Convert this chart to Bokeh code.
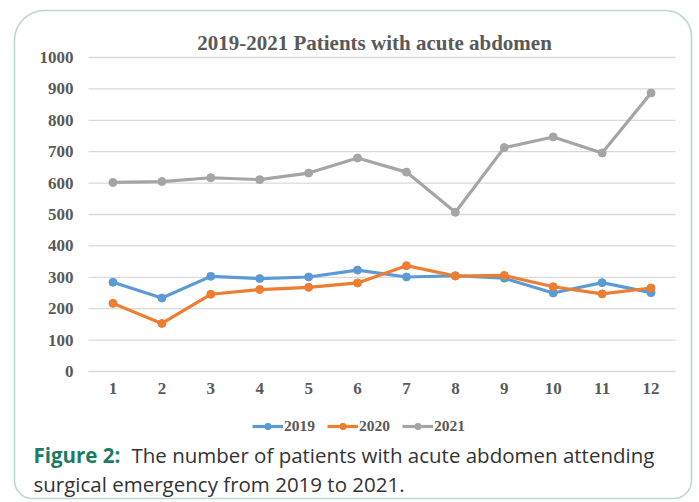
from bokeh.plotting import figure
from bokeh.models import (Label, BoxAnnotation, Legend, LegendItem, FixedTicker,
                          Range1d)
from bokeh.embed import file_html
from bokeh.resources import INLINE

months = [1, 2, 3, 4, 5, 6, 7, 8, 9, 10, 11, 12]
y2019 = [284, 234, 303, 296, 301, 323, 301, 305, 297, 250, 283, 251]
y2020 = [217, 153, 246, 261, 268, 282, 337, 304, 306, 270, 247, 266]
y2021 = [602, 605, 617, 611, 632, 680, 635, 507, 713, 747, 696, 887]
series_names = ["2019", "2020", "2021"]
y_ticks = [0, 100, 200, 300, 400, 500, 600, 700, 800, 900, 1000]
title_text = "2019-2021 Patients with acute abdomen"
caption_bold = "Figure 2:"
caption_line1 = "The number of patients with acute abdomen attending"
caption_line2 = "surgical emergency from 2019 to 2021."

W, H = 699, 502
# plot area in page pixels (x: 0.5..12.5, y: 0..1000)
PL, PR, PT, PB = 88, 675, 57, 371
XMIN, XMAX, YMIN, YMAX = 0.5, 12.5, 0, 1000
kx = (XMAX - XMIN) / (PR - PL)
ky = (YMAX - YMIN) / (PB - PT)
x_range = Range1d(XMIN - PL * kx, XMAX + (W - PR) * kx)
y_range = Range1d(YMIN - (H - PB) * ky, YMAX + PT * ky)

p = figure(width=W, height=H, output_backend="svg", toolbar_location=None,
           x_range=x_range, y_range=y_range,
           min_border=0, min_border_left=0, min_border_right=0,
           min_border_top=0, min_border_bottom=0)
p.outline_line_color = None
p.background_fill_color = "white"
p.border_fill_color = "white"
p.xgrid.visible = False
p.ygrid.visible = False

SERIF = "Liberation Serif"
TICK_COLOR = "#595959"

p.xaxis.ticker = FixedTicker(ticks=months)
p.yaxis.ticker = FixedTicker(ticks=y_ticks)
p.xaxis.fixed_location = YMIN
p.yaxis.fixed_location = XMIN
for ax in (p.xaxis[0], p.yaxis[0]):
    ax.axis_line_color = None
    ax.major_tick_line_color = None
    ax.minor_tick_line_color = None
    ax.major_tick_out = 0
    ax.major_tick_in = 0
    ax.major_label_text_font = SERIF
    ax.major_label_text_font_style = "bold"
    ax.major_label_text_font_size = "17px"
    ax.major_label_text_color = TICK_COLOR
p.yaxis.major_label_standoff = 15
p.xaxis.major_label_standoff = 11

# horizontal gridlines drawn across the plot area from the tick values
p.segment(x0=[XMIN] * len(y_ticks), x1=[XMAX] * len(y_ticks), y0=y_ticks,
          y1=y_ticks, line_color="#d9d9d9", line_width=1.3, level="underlay")

colors = ["#5b9bd5", "#ed7d31", "#a5a5a5"]
items = []
for name, vals, c in zip(series_names, [y2019, y2020, y2021], colors):
    lr = p.line(months, vals, line_color=c, line_width=3.2)
    sr = p.scatter(months, vals, size=8, color=c)
    items.append(LegendItem(label=name, renderers=[lr, sr]))

def sx(x):
    return x

def sy(y):
    return H - y

legend = Legend(items=items, orientation="horizontal",
                location=(sx(252), sy(435)),
                label_text_font=SERIF, label_text_font_style="bold",
                label_text_font_size="15.5px", label_text_color=TICK_COLOR,
                glyph_width=31, glyph_height=16, label_standoff=1, spacing=12,
                padding=0, margin=0, border_line_color=None,
                background_fill_alpha=0)
p.add_layout(legend)

# outer rounded border
box = BoxAnnotation(left=sx(14), right=sx(691), top=sy(10), bottom=sy(498),
                    left_units="screen", right_units="screen",
                    top_units="screen", bottom_units="screen",
                    fill_alpha=0, line_color="#1b7a60", line_width=1.6,
                    border_radius=dict(top_left=30, top_right=26,
                                       bottom_right=18, bottom_left=18),
                    level="underlay")
p.add_layout(box)

p.add_layout(Label(x=sx(374), y=sy(42), x_units="screen", y_units="screen",
                   text=title_text, text_font=SERIF, text_font_style="bold",
                   text_font_size="21px", text_color=TICK_COLOR,
                   text_align="center", text_baseline="middle"))

CAP = "Open Sans"
CAP_SIZE = "20.5px"
p.add_layout(Label(x=sx(33), y=sy(454), x_units="screen", y_units="screen",
                   text=caption_bold, text_font=CAP, text_font_style="bold",
                   text_font_size=CAP_SIZE, text_color="#1c7b62",
                   text_baseline="alphabetic"))
p.add_layout(Label(x=sx(131), y=sy(454), x_units="screen", y_units="screen",
                   text=caption_line1, text_font=CAP,
                   text_font_size=CAP_SIZE, text_color="#333333",
                   text_baseline="alphabetic"))
p.add_layout(Label(x=sx(33), y=sy(483), x_units="screen", y_units="screen",
                   text=caption_line2, text_font=CAP,
                   text_font_size=CAP_SIZE, text_color="#333333",
                   text_baseline="alphabetic"))

open("out.html", "w").write(file_html(p, INLINE))
